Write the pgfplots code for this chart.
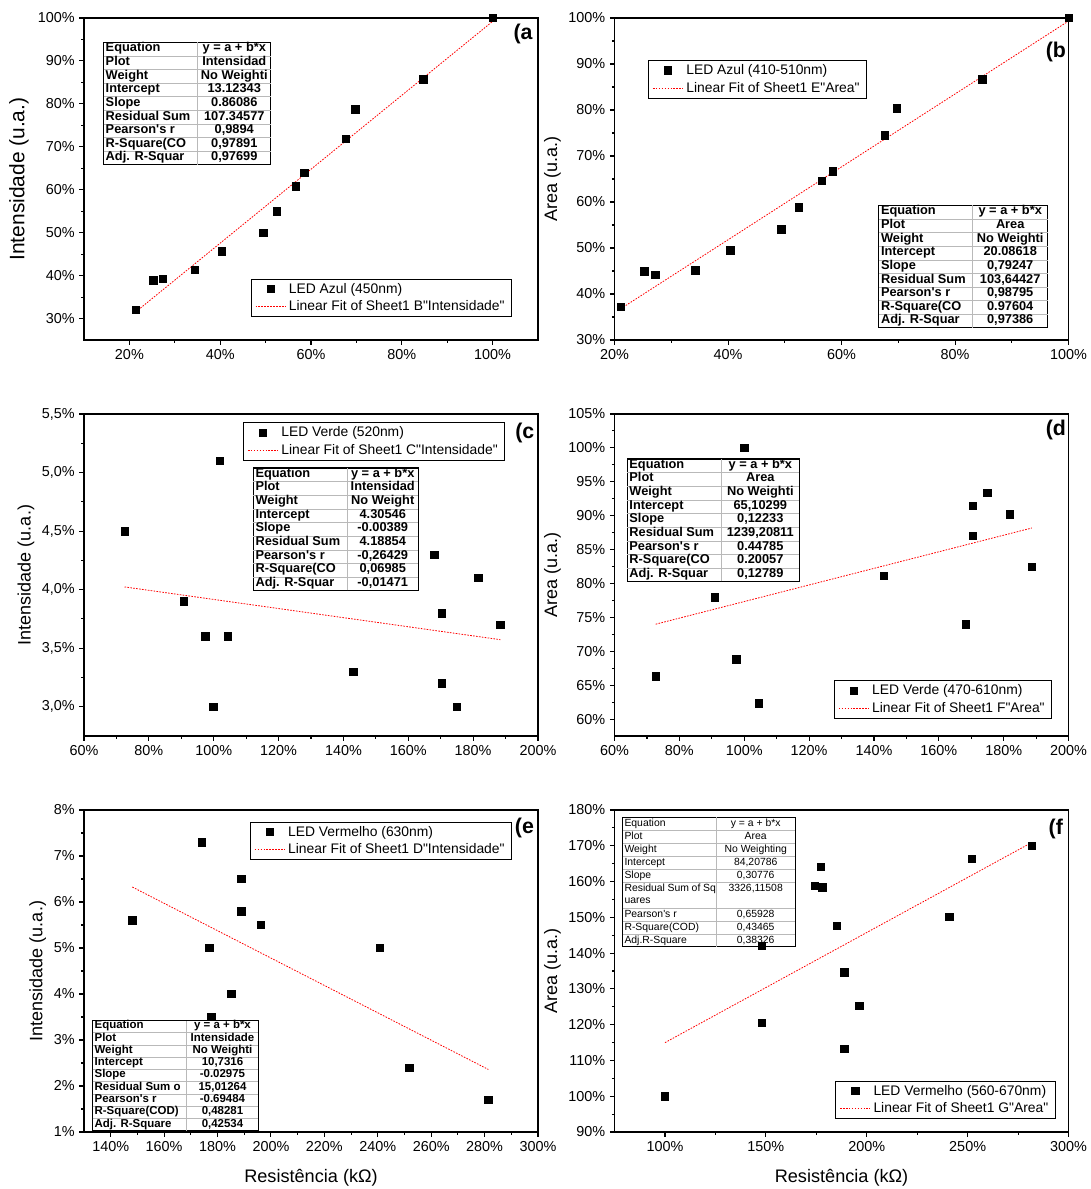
\documentclass[border=0pt]{standalone}
\usepackage{fontspec}
\setmainfont{Liberation Sans}[Ligatures=TeXOff]
\usepackage{pgfplots}
\pgfplotsset{compat=1.18}
\usepackage{colortbl}

\newcommand{\stat}[4]{{#1\arrayrulecolor{gray!55}\begin{tabular}{@{\,}p{#2}@{}|@{}>{\centering\arraybackslash}p{#3}@{}}#4\end{tabular}}}
\newcommand{\tfa}{\fontsize{9.6}{9.75}\selectfont\bfseries}
\newcommand{\tfe}{\fontsize{8.6}{8.7}\selectfont\bfseries}
\newcommand{\tff}{\fontsize{7.8}{9.4}\selectfont}

\pgfplotsset{
  panel/.style={
    width=340.5pt, height=241.5pt, scale only axis, anchor=north west,
    tick align=outside, xtick pos=left, ytick pos=left,
    minor x tick num=1, minor y tick num=1,
    major tick length=3.5pt, minor tick length=2pt,
    axis line style={line width=0.9pt},
    every tick/.style={black, line width=0.8pt},
    tick label style={font=\fontsize{10.8}{12}\selectfont},
    /pgf/number format/assume math mode=true,
    xticklabel={\pgfmathprintnumber{\tick}\%},
    yticklabel={\pgfmathprintnumber{\tick}\%},
    every axis y label/.style={rotate=90, anchor=center, font=\fontsize{13.5}{14}\selectfont},
    every axis x label/.style={anchor=center, font=\fontsize{13.6}{14}\selectfont},
    legend cell align=left,
    legend style={draw=black, line width=0.6pt, font=\fontsize{10.4}{12}\selectfont, inner xsep=3pt, inner ysep=1pt},
    legend image code/.code={\draw[mark repeat=2,mark phase=2,##1] plot coordinates {(0cm,0cm) (0.4cm,0cm) (0.8cm,0cm)};},
  },
  datapts/.style={only marks, mark=square*, mark size=2.8pt, black, mark options={solid}},
  fitline/.style={red, line width=0.6pt, dash pattern=on 1.2pt off 1pt, no marks},
}
\tikzset{
  tab/.style={draw=black, line width=0.8pt, inner sep=0pt},
  plab/.style={font=\fontsize{16}{16}\selectfont\bfseries, anchor=center},
}

\begin{document}
\begin{tikzpicture}
\path[use as bounding box] (0,0) rectangle (818.25pt,-891.75pt);

% (a)
\begin{axis}[panel, at={(63pt,-13.5pt)},
  xmin=10, xmax=110, ymin=25, ymax=100,
  xtick={20,40,...,100}, ytick={30,40,...,100},
  ylabel={Intensidade (u.a.)},
  ylabel style={at={(rel axis cs:-0.143,0.5)}, font=\fontsize{15.7}{16}\selectfont},
  legend style={at={(0.942,0.072)}, anchor=south east}]
\addplot[datapts] coordinates {(21.4,32) (25.3,38.9) (27.3,39.3) (34.4,41.4) (40.4,45.7) (49.5,50.0) (52.5,55.0) (56.6,60.8) (58.5,63.9) (67.6,71.9) (69.7,78.7) (84.7,85.7) (100,100)};
\addlegendentry{LED Azul (450nm)}
\addplot[fitline] coordinates {(21.4,31.546) (100,99.209)};
\addlegendentry{Linear Fit of Sheet1 B"Intensidade"}
\node[tab, anchor=north west] at (rel axis cs:0.042,0.926) {\stat{\tfa}{68.5pt}{55pt}{%
Equation & y = a + b*x\\\hline
Plot & Intensidad\\\hline
Weight & No Weighti\\\hline
Intercept & 13.12343\\\hline
Slope & 0.86086\\\hline
Residual Sum & 107.34577\\\hline
Pearson's r & 0,9894\\\hline
R-Square(CO & 0,97891\\\hline
Adj. R-Squar & 0,97699}};
\node[plab] at (rel axis cs:0.967,0.95) {(a};
\end{axis}

% (b)
\begin{axis}[panel, at={(460.9pt,-13.5pt)},
  xmin=20, xmax=100, ymin=30, ymax=100,
  xtick={20,40,...,100}, ytick={30,40,...,100},
  ylabel={Area (u.a.)},
  ylabel style={at={(rel axis cs:-0.137,0.5)}},
  legend style={at={(0.074,0.869)}, anchor=north west}]
\addplot[datapts] coordinates {(21.1,37.2) (25.2,44.9) (27.2,44.2) (34.2,45.2) (40.4,49.5) (49.4,54.1) (52.5,58.9) (56.5,64.6) (58.5,66.7) (67.6,74.5) (69.7,80.4) (84.8,86.7) (100,100)};
\addlegendentry{LED Azul (410-510nm)}
\addplot[fitline] coordinates {(21.1,36.807) (100,99.333)};
\addlegendentry{Linear Fit of Sheet1 E"Area"}
\node[tab, anchor=south east] at (rel axis cs:0.955,0.036) {\stat{\tfa}{68.5pt}{56pt}{%
Equation & y = a + b*x\\\hline
Plot & Area\\\hline
Weight & No Weighti\\\hline
Intercept & 20.08618\\\hline
Slope & 0,79247\\\hline
Residual Sum & 103,64427\\\hline
Pearson's r & 0,98795\\\hline
R-Square(CO & 0.97604\\\hline
Adj. R-Squar & 0,97386}};
\node[plab] at (rel axis cs:0.972,0.895) {(b};
\end{axis}

% (c)
\begin{axis}[panel, at={(63pt,-310.5pt)},
  xmin=60, xmax=200, ymin=2.75, ymax=5.5,
  xtick={60,80,...,200}, ytick={3,3.5,...,5.5},
  yticklabel style={/pgf/number format/.cd, fixed, fixed zerofill, precision=1, use comma},
  ylabel={Intensidade (u.a.)},
  ylabel style={at={(rel axis cs:-0.128,0.5)}},
  legend style={at={(0.927,0.974)}, anchor=north east}]
\addplot[datapts] coordinates {(72.5,4.5) (90.8,3.9) (97.4,3.6) (99.8,3.0) (101.9,5.1) (104.3,3.6) (143.0,3.3) (168.0,4.3) (170.3,3.8) (170.3,3.2) (174.9,3.0) (181.6,4.1) (188.4,3.7)};
\addlegendentry{LED Verde (520nm)}
\addplot[fitline] coordinates {(72.5,4.0234) (188.4,3.5726)};
\addlegendentry{Linear Fit of Sheet1 C"Intensidade"}
\node[tab, anchor=north west] at (rel axis cs:0.372,0.834) {\stat{\tfa}{68.5pt}{53pt}{%
Equation & y = a + b*x\\\hline
Plot & Intensidad\\\hline
Weight & No Weight\\\hline
Intercept & 4.30546\\\hline
Slope & -0.00389\\\hline
Residual Sum & 4.18854\\\hline
Pearson's r & -0,26429\\\hline
R-Square(CO & 0,06985\\\hline
Adj. R-Squar & -0,01471}};
\node[plab] at (rel axis cs:0.971,0.94) {(c};
\end{axis}

% (d)
\begin{axis}[panel, at={(460.9pt,-310.5pt)},
  xmin=60, xmax=200, ymin=57.5, ymax=105,
  xtick={60,80,...,200}, ytick={60,65,...,105},
  ylabel={Area (u.a.)},
  ylabel style={at={(rel axis cs:-0.137,0.5)}},
  legend style={at={(0.963,0.054)}, anchor=south east}]
\addplot[datapts] coordinates {(72.7,66.3) (90.9,78.0) (97.6,68.8) (100,100) (104.5,62.3) (143.1,81.1) (168.3,74.0) (170.5,87.0) (170.5,91.5) (175.0,93.4) (181.8,90.2) (188.7,82.5)};
\addlegendentry{LED Verde (470-610nm)}
\addplot[fitline] coordinates {(72.7,73.996) (188.7,88.187)};
\addlegendentry{Linear Fit of Sheet1 F"Area"}
\node[tab, anchor=north west] at (rel axis cs:0.027,0.862) {\stat{\tfa}{68.5pt}{58.5pt}{%
Equation & y = a + b*x\\\hline
Plot & Area\\\hline
Weight & No Weighti\\\hline
Intercept & 65,10299\\\hline
Slope & 0,12233\\\hline
Residual Sum & 1239,20811\\\hline
Pearson's r & 0.44785\\\hline
R-Square(CO & 0.20057\\\hline
Adj. R-Squar & 0,12789}};
\node[plab] at (rel axis cs:0.972,0.95) {(d};
\end{axis}

% (e)
\begin{axis}[panel, at={(63pt,-607.5pt)},
  xmin=130, xmax=300, ymin=1, ymax=8,
  xtick={140,160,...,300}, ytick={1,2,...,8},
  ylabel={Intensidade (u.a.)},
  ylabel style={at={(rel axis cs:-0.102,0.5)}},
  xlabel={Resistência (kΩ)},
  xlabel style={at={(rel axis cs:0.5,-0.143)}},
  legend style={at={(0.942,0.964)}, anchor=north east}]
\addplot[datapts] coordinates {(148.1,5.6) (174.1,7.3) (176.9,5.0) (177.7,3.5) (185.1,4.0) (188.9,6.5) (188.9,5.8) (196.2,5.5) (240.8,5.0) (251.8,2.4) (281.4,1.7)};
\addlegendentry{LED Vermelho (630nm)}
\addplot[fitline] coordinates {(148.1,6.3256) (281.4,2.3599)};
\addlegendentry{Linear Fit of Sheet1 D"Intensidade"}
\node[tab, anchor=south west] at (rel axis cs:0.018,0.003) {\stat{\tfe}{68.5pt}{54pt}{%
Equation & y = a + b*x\\\hline
Plot & Intensidade\\\hline
Weight & No Weighti\\\hline
Intercept & 10,7316\\\hline
Slope & -0.02975\\\hline
Residual Sum o & 15,01264\\\hline
Pearson's r & -0.69484\\\hline
R-Square(COD) & 0,48281\\\hline
Adj. R-Square & 0,42534}};
\node[plab] at (rel axis cs:0.97,0.943) {(e};
\end{axis}

% (f)
\begin{axis}[panel, at={(460.9pt,-607.5pt)},
  xmin=75, xmax=300, ymin=90, ymax=180,
  xtick={100,150,...,300}, ytick={90,100,...,180},
  ylabel={Area (u.a.)},
  ylabel style={at={(rel axis cs:-0.137,0.5)}},
  xlabel={Resistência (kΩ)},
  xlabel style={at={(rel axis cs:0.5,-0.143)}},
  legend style={at={(0.971,0.041)}, anchor=south east}]
\addplot[datapts] coordinates {(100,100.0) (148.0,120.6) (148.0,142.1) (174.1,158.9) (177.1,164.2) (177.9,158.4) (185.2,147.6) (188.9,134.6) (188.9,113.3) (196.2,125.3) (240.8,150.1) (252.0,166.4) (281.7,170.0)};
\addlegendentry{LED Vermelho (560-670nm)}
\addplot[fitline] coordinates {(100,114.984) (281.7,170.904)};
\addlegendentry{Linear Fit of Sheet1 G"Area"}
\node[tab, anchor=north west] at (rel axis cs:0.017,0.979) {\stat{\tff}{68.5pt}{59pt}{%
Equation & y = a + b*x\\\hline
Plot & Area\\\hline
Weight & No Weighting\\\hline
Intercept & 84,20786\\\hline
Slope & 0,30776\\\hline
Residual Sum of Sq & 3326,11508\\
uares & \\\hline
Pearson's r & 0,65928\\\hline
R-Square(COD) & 0,43465\\\hline
Adj.R-Square & 0,38326}};
\node[plab] at (rel axis cs:0.972,0.94) {(f};
\end{axis}
\end{tikzpicture}
\end{document}
